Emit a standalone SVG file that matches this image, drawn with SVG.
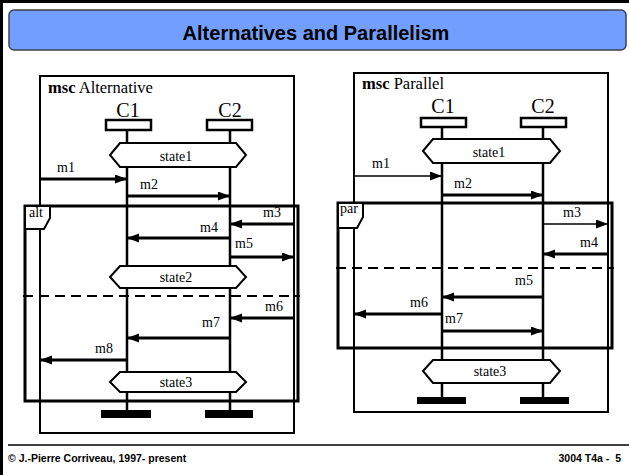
<svg xmlns="http://www.w3.org/2000/svg" width="629" height="475" viewBox="0 0 629 475">
<defs>
<marker id="ah" markerUnits="userSpaceOnUse" markerWidth="13" markerHeight="10" refX="12" refY="4.5" orient="auto">
<path d="M0,0 L12,4.5 L0,9 z" fill="#000"/>
</marker>
<style>
.frame{fill:none;stroke:#000;stroke-width:2}
.box{fill:none;stroke:#000;stroke-width:3}
.tab{fill:#fff;stroke:#000;stroke-width:2}
.inst{fill:#fff;stroke:#000;stroke-width:2.5}
.life{stroke:#000;stroke-width:2.5}
.hex{fill:#fff;stroke:#000;stroke-width:2}
.stop{fill:#000}
.msg{stroke:#000;stroke-width:3;fill:none;marker-end:url(#ah)}
.thin{stroke-width:1.6}
.dash{stroke:#000;stroke-width:2;stroke-dasharray:10 6;fill:none}
.t{font-family:"Liberation Serif","Times New Roman",serif;font-size:14px;fill:#000}
.big{font-family:"Liberation Serif","Times New Roman",serif;font-size:20px;fill:#000;text-anchor:middle}
.mid{text-anchor:middle}
.hd{font-family:"Liberation Serif","Times New Roman",serif;font-size:16.5px;fill:#000}
.ft{font-family:"Liberation Sans",Arial,sans-serif;font-size:10.5px;font-weight:bold;fill:#000}
</style>
</defs>
<rect width="629" height="475" fill="#fff"/>
<path d="M1.5,475 V1.5 H629" fill="none" stroke="#000" stroke-width="3"/>
<g id="header">
<rect x="9" y="10" width="617" height="40" rx="5" fill="#729fff" stroke="#3c4050" stroke-width="1.5"/>
<text x="316" y="40" text-anchor="middle" font-family="'Liberation Sans',Arial,sans-serif" font-size="20" font-weight="bold">Alternatives and Parallelism</text>
</g>
<g id="footer">
<line x1="8" y1="445" x2="629" y2="445" stroke="#000" stroke-width="1.5"/>
<text class="ft" x="8" y="462">© J.-Pierre Corriveau, 1997- present</text>
<text class="ft" x="621" y="462" text-anchor="end" xml:space="preserve">3004 T4a -  5</text>
</g>

<!-- Left MSC -->
<g id="msc-alternative">
<rect class="frame" x="40" y="76" width="254" height="357"/>
<text class="hd" x="48" y="93"><tspan font-weight="bold">msc</tspan> Alternative</text>
</g>
<g id="alt-box">
<rect class="box" x="25" y="206" width="273" height="195"/>
<path class="tab" d="M25,206 H50 V218 L44,229 H25 Z"/>
<text class="t" x="29" y="217">alt</text>
<line class="dash" x1="23" y1="296" x2="300" y2="296"/>
</g>
<g id="L-C1">
<line class="life" x1="127" y1="130" x2="127" y2="410"/>
<rect class="inst" x="106" y="120" width="45" height="10"/>
<text class="big" x="128" y="117">C1</text>
<rect class="stop" x="101" y="410" width="50" height="8"/>
</g>
<g id="L-C2">
<line class="life" x1="230" y1="130" x2="230" y2="410" stroke-width="3"/>
<rect class="inst" x="207" y="120" width="45" height="10"/>
<text class="big" x="230" y="117">C2</text>
<rect class="stop" x="205" y="410" width="48" height="8"/>
</g>
<g id="L-state1">
<polygon class="hex" points="110,155 120,143 236,143 246,155 236,167 120,167"/>
<text class="t mid" x="176" y="161">state1</text>
</g>
<g id="L-state2">
<polygon class="hex" points="110,277 120,266 236,266 246,277 236,288 120,288"/>
<text class="t mid" x="176" y="282">state2</text>
</g>
<g id="L-state3">
<polygon class="hex" points="110,382 120,372 236,372 246,382 236,392 120,392"/>
<text class="t mid" x="176" y="387">state3</text>
</g>

<!-- Right MSC -->
<g id="msc-parallel">
<rect class="frame" x="354" y="73" width="254" height="339"/>
<text class="hd" x="362" y="89"><tspan font-weight="bold">msc</tspan> Parallel</text>
</g>
<g id="par-box">
<rect class="box" x="338" y="203" width="274" height="145"/>
<path class="tab" d="M338,203 H363 V217 L357,228 H338 Z"/>
<text class="t" x="340" y="213">par</text>
<line class="dash" x1="336" y1="268" x2="614" y2="268"/>
</g>
<g id="R-C1">
<line class="life" x1="442" y1="127" x2="442" y2="397"/>
<rect class="inst" x="421" y="118" width="45" height="9"/>
<text class="big" x="443" y="113">C1</text>
<rect class="stop" x="417" y="397" width="49" height="7"/>
</g>
<g id="R-C2">
<line class="life" x1="543" y1="127" x2="543" y2="397"/>
<rect class="inst" x="521" y="118" width="45" height="9"/>
<text class="big" x="543" y="113">C2</text>
<rect class="stop" x="520" y="397" width="49" height="7"/>
</g>
<g id="R-state1">
<polygon class="hex" points="423,151 433,139 550,139 560,151 550,163 433,163"/>
<text class="t mid" x="489" y="157">state1</text>
</g>
<g id="R-state3">
<polygon class="hex" points="423,371 433,360 550,360 560,371 550,383 433,383"/>
<text class="t mid" x="490" y="376">state3</text>
</g>

<g id="connectors">
<line class="msg" x1="40" y1="179" x2="127" y2="179"/>
<text class="t" x="57" y="172">m1</text>
<line class="msg" x1="127" y1="196" x2="230" y2="196"/>
<text class="t" x="140" y="189">m2</text>
<line class="msg" x1="294" y1="224" x2="230" y2="224"/>
<text class="t" x="263" y="217">m3</text>
<line class="msg" x1="230" y1="238" x2="127" y2="238"/>
<text class="t" x="200" y="232">m4</text>
<line class="msg" x1="230" y1="257" x2="294" y2="257"/>
<text class="t" x="235" y="248">m5</text>
<line class="msg" x1="294" y1="318" x2="230" y2="318"/>
<text class="t" x="265" y="311">m6</text>
<line class="msg" x1="230" y1="338" x2="127" y2="338"/>
<text class="t" x="202" y="327">m7</text>
<line class="msg" x1="127" y1="360" x2="40" y2="360"/>
<text class="t" x="95" y="353">m8</text>

<line class="msg thin" x1="354" y1="176" x2="442" y2="176"/>
<text class="t" x="372" y="168">m1</text>
<line class="msg" x1="442" y1="195" x2="543" y2="195"/>
<text class="t" x="454" y="188">m2</text>
<line class="msg thin" x1="543" y1="224" x2="608" y2="224"/>
<text class="t" x="563" y="217">m3</text>
<line class="msg" x1="608" y1="254" x2="543" y2="254"/>
<text class="t" x="580" y="247">m4</text>
<line class="msg" x1="543" y1="297" x2="442" y2="297"/>
<text class="t" x="515" y="285">m5</text>
<line class="msg" x1="442" y1="314" x2="354" y2="314"/>
<text class="t" x="410" y="307">m6</text>
<line class="msg" x1="442" y1="331" x2="543" y2="331"/>
<text class="t" x="445" y="323">m7</text>
</g>
</svg>
